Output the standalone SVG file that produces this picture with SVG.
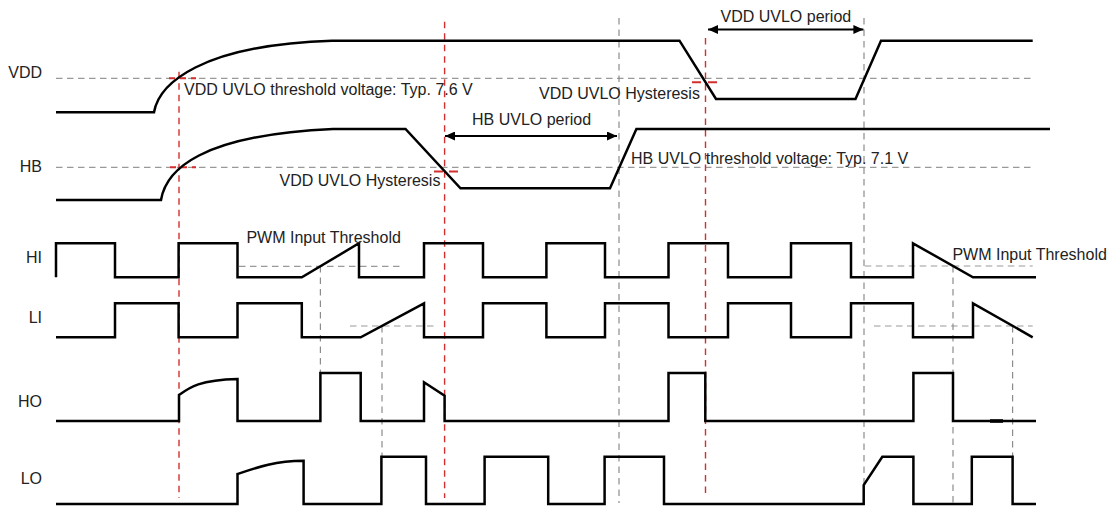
<svg xmlns="http://www.w3.org/2000/svg" width="1112" height="508" viewBox="0 0 1112 508">
<style>
.sig{fill:none;stroke:#000;stroke-width:2.5;stroke-linejoin:miter}
.thr{fill:none;stroke:#999;stroke-width:1.2;stroke-dasharray:6.5 4.5}
.vg{fill:none;stroke:#8c8c8c;stroke-width:1.2;stroke-dasharray:6.5 5}
.vr{fill:none;stroke:#d32f2f;stroke-width:1.4;stroke-dasharray:6.5 5}
.mk{fill:none;stroke:#d32f2f;stroke-width:2}
.arr{fill:none;stroke:#000;stroke-width:2;marker-start:url(#ah);marker-end:url(#ah)}
text{font-family:"Liberation Sans",Arial,sans-serif;font-size:16px;fill:#222}
.lab{text-anchor:end}
</style>
<defs>
<marker id="ah" markerUnits="userSpaceOnUse" markerWidth="11" markerHeight="9" refX="10" refY="4.5" orient="auto-start-reverse">
<path d="M0,0 L10,4.5 L0,9 z" fill="#000"/>
</marker>
</defs>
<rect width="1112" height="508" fill="#fff"/>
<g id="guides">
<path class="thr" d="M56,78.3 H1034"/>
<path class="thr" d="M56,167.3 H1034"/>
<path class="thr" d="M239,266.3 H402"/>
<path class="thr" d="M350,326 H437.5"/>
<path class="thr" d="M864.8,266 H1032.7"/>
<path class="thr" d="M874,326 H1032.7"/>
<path class="vg" d="M320.4,266 V374"/>
<path class="vg" d="M382,326 V456.7"/>
<path class="vg" d="M619,18 V503"/>
<path class="vg" d="M864,18 V503"/>
<path class="vg" d="M953,266 V503"/>
<path class="vg" d="M1012.6,326 V456.7"/>
<path class="vr" d="M179,71.7 V498"/>
<path class="vr" d="M444.6,21.7 V498"/>
<path class="vr" d="M705.5,38 V498"/>
<path class="mk" stroke-dasharray="6 5" d="M169,78.3 H196"/>
<path class="mk" stroke-dasharray="9 7" d="M692,82.3 H718"/>
<path class="mk" stroke-dasharray="6 5" d="M170,167.3 H196"/>
<path class="mk" stroke-dasharray="9 6" d="M434,171.5 H458"/>
</g>
<g id="vdd">
<text class="lab" x="42" y="78.3">VDD</text>
<path class="sig" d="M56,112.3 H154 C159,84 200,45 332,40.7 H679.5 L716,99 H855.5 L881,40.7 H1032.7"/>
</g>
<g id="hb">
<text class="lab" x="42" y="172">HB</text>
<path class="sig" d="M56,200 H161 C166,170 200,135 333,129 H405.5 L460.5,188.3 H610 L636.4,129 H1050"/>
</g>
<g id="hi">
<text class="lab" x="42" y="262.7">HI</text>
<path class="sig" d="M56,277.3 V243.3 H115 V277.3 H178.6 V243.3 H237.5 V277.3 H301.8 L359,243.3 V277.3 H424 V243.3 H483 V277.3 H546.4 V243.3 H605 V277.3 H668.5 V243.3 H728 V277.3 H791 V243.3 H851 V277.3 H913 V243.3 L973,277.3 H1036"/>
</g>
<g id="li">
<text class="lab" x="42" y="323.3">LI</text>
<path class="sig" d="M56,337.3 H115 V303.3 H178.6 V337.3 H237.5 V303.3 H301.8 V337.3 H360.7 L424,303.3 V337.3 H483 V303.3 H546.4 V337.3 H605 V303.3 H668.5 V337.3 H728 V303.3 H791 V337.3 H851 V303.3 H913 V337.3 H973 V303.3 L1032.7,337.3"/>
</g>
<g id="ho">
<text class="lab" x="42" y="406.7">HO</text>
<path class="sig" d="M56,421 H179 V395 C190,387 200,380 237.5,379 V421 H320.4 V373 H360.7 V421 H424 V382.3 L444.6,395.7 V421 H668.5 V373 H705.3 V421 H913.4 V373 H953 V421 H1036"/>
<path d="M990,421 H1003" stroke="#000" stroke-width="3.6" fill="none"/>
</g>
<g id="lo">
<text class="lab" x="42" y="484">LO</text>
<path class="sig" d="M56,504 H237.5 V474 C258,467 275,461 303.6,460.7 V504 H381.4 V456.7 H426 V504 H484.6 V456.7 H548.2 V504 H604.6 V456.7 H664 V504 H863.7 V485 L882.3,456.7 H913.4 V504 H971.8 V456.7 H1012.6 V504 H1036"/>
</g>
<g id="connectors">
<path class="arr" d="M708,29.5 H863.4"/>
<path class="arr" d="M445,136 H617"/>
</g>
<g id="annotations">
<text x="184" y="94.5">VDD UVLO threshold voltage: Typ. 7.6 V</text>
<text x="539" y="99">VDD UVLO Hysteresis</text>
<text x="720.5" y="21.7">VDD UVLO period</text>
<text x="472" y="125">HB UVLO period</text>
<text x="631" y="164">HB UVLO threshold voltage: Typ. 7.1 V</text>
<text x="279.5" y="186">VDD UVLO Hysteresis</text>
<text x="246.4" y="243">PWM Input Threshold</text>
<text x="952.4" y="259.8">PWM Input Threshold</text>
</g>
</svg>
